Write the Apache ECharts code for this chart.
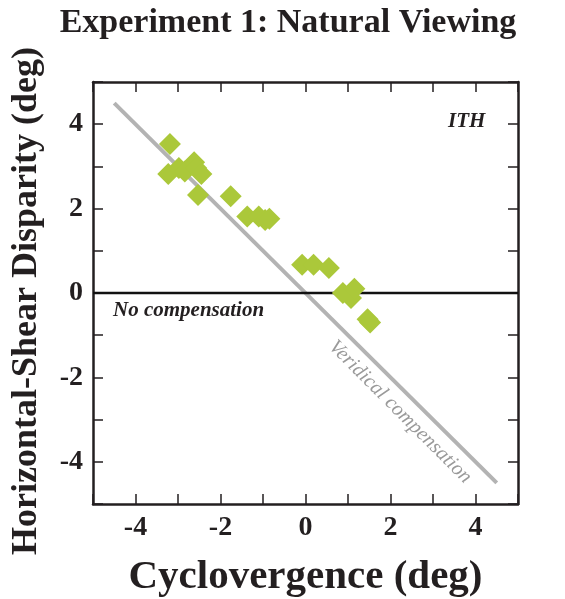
<!DOCTYPE html>
<html>
<head>
<meta charset="utf-8">
<script src="https://cdn.jsdelivr.net/npm/echarts@6/dist/echarts.min.js"></script>
<style>html,body{margin:0;padding:0;background:#fff}#c{width:565px;height:599px}</style>
</head>
<body>
<div id="c"></div>
<script>
var titleText = 'Experiment 1: Natural Viewing';
var xName = 'Cyclovergence (deg)';
var yName = 'Horizontal-Shear Disparity (deg)';
var xMin = -5, xMax = 5, yMin = -5, yMax = 5;
var cyclo = [-3.19, -3.23, -2.98, -2.84, -2.62, -2.57, -2.45, -2.53, -1.76, -1.37, -1.10, -0.95, -0.85, -0.08, 0.19, 0.55, 0.88, 1.07, 1.15, 1.46, 1.52];
var disparity = [3.53, 2.82, 2.96, 2.88, 3.10, 2.96, 2.82, 2.32, 2.29, 1.81, 1.81, 1.73, 1.76, 0.67, 0.67, 0.59, 0.00, -0.12, 0.10, -0.62, -0.70];
var veridicalX = [-4.5, 4.5];
var veridicalY = [4.5, -4.5];
var zeroX = [-5, 5];
var zeroY = [0, 0];

var pts = cyclo.map(function (x, i) { return [x, disparity[i]]; });
var ver = veridicalX.map(function (x, i) { return [x, veridicalY[i]]; });
var zer = zeroX.map(function (x, i) { return [x, zeroY[i]]; });

var font = 'Liberation Serif';
var ink = '#231f20';
var chart = echarts.init(document.getElementById('c'));
function lbl(v) { return (v % 2 === 0) ? String(v) : ''; }
var axisCommon = {
  type: 'value', interval: 1,
  axisLine: { show: true, onZero: false, lineStyle: { color: ink, width: 2.5 } },
  axisTick: { show: true, inside: true, length: 10, lineStyle: { color: ink, width: 1.5 } },
  splitLine: { show: false }
};
chart.setOption({
  animation: false,
  title: { text: titleText, left: 283, top: 1, textAlign: 'center',
    textStyle: { fontFamily: font, fontWeight: 'bold', fontSize: 34, color: ink } },
  grid: { left: 93, right: 47, top: 82, bottom: 95, outerBoundsMode: 'none', containLabel: false },
  xAxis: [
    Object.assign({}, axisCommon, { min: xMin, max: xMax, position: 'bottom',
      name: xName, nameLocation: 'middle', nameGap: 53,
      nameTextStyle: { fontFamily: font, fontWeight: 'bold', fontSize: 41, color: ink },
      axisLabel: { formatter: lbl, margin: 10, fontFamily: font, fontWeight: 'bold', fontSize: 28, color: ink } }),
    Object.assign({}, axisCommon, { min: xMin, max: xMax, position: 'top', axisLabel: { show: false } })
  ],
  yAxis: [
    Object.assign({}, axisCommon, { min: yMin, max: yMax, position: 'left',
      name: yName, nameLocation: 'middle', nameGap: 48,
      nameTextStyle: { fontFamily: font, fontWeight: 'bold', fontSize: 36, color: ink, padding: [0, 16, 0, 0] },
      axisLabel: { formatter: lbl, margin: 10, fontFamily: font, fontWeight: 'bold', fontSize: 28, color: ink } }),
    Object.assign({}, axisCommon, { min: yMin, max: yMax, position: 'right', axisLabel: { show: false } })
  ],
  series: [
    { type: 'line', data: ver, symbol: 'none', lineStyle: { color: '#b3b3b3', width: 4 }, z: 1 },
    { type: 'line', data: zer, symbol: 'none', lineStyle: { color: '#111', width: 2.5 }, z: 2 },
    { type: 'scatter', data: pts, symbol: 'diamond', symbolSize: 22, itemStyle: { color: '#abc83a', opacity: 1 }, z: 3 }
  ],
  graphic: [
    { type: 'text', left: 448, top: 111, style: { text: 'ITH', fontFamily: font, fontStyle: 'italic', fontWeight: 'bold', fontSize: 21, fill: ink } },
    { type: 'text', left: 113, top: 300, style: { text: 'No compensation', fontFamily: font, fontStyle: 'italic', fontWeight: 'bold', fontSize: 21, fill: ink } },
    { type: 'text', x: 400, y: 412, rotation: -Math.PI / 4,
      style: { text: 'Veridical compensation', fontFamily: font, fontStyle: 'italic', fontSize: 20.5, fill: '#9a9a9a', align: 'center', verticalAlign: 'middle' } }
  ]
});
</script>
</body>
</html>
